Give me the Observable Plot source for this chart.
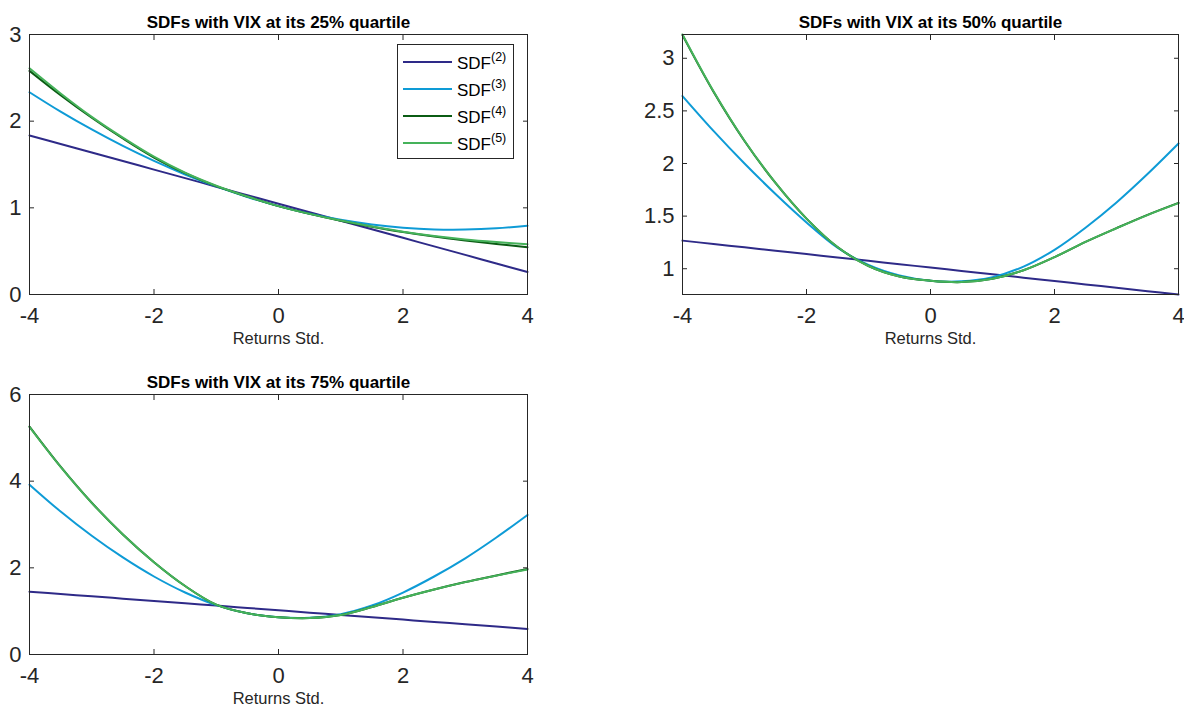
<!DOCTYPE html>
<html>
<head>
<meta charset="utf-8">
<script src="https://cdn.jsdelivr.net/npm/d3@7"></script>
<script src="https://cdn.jsdelivr.net/npm/@observablehq/plot@0.6"></script>
<style>
  html, body { margin: 0; padding: 0; background: #fff; }
  #root { position: relative; width: 1184px; height: 706px; overflow: hidden; font-family: "Liberation Sans", Arial, Helvetica, sans-serif; }
  .panel { position: absolute; }
  .panel svg { overflow: visible; }
  .legend { position: absolute; box-sizing: border-box; border: 1px solid #262626; background: #fff; }
  .legend .row { position: absolute; left: 0; height: 0; }
  .legend .swatch { position: absolute; height: 2px; }
  .legend .lab { position: absolute; font-size: 17px; color: #000; white-space: nowrap; line-height: 1; }
  .legend .lab sup { font-size: 12.5px; position: relative; top: -1px; vertical-align: super; line-height: 0; }
</style>
</head>
<body>
<div id="root"></div>
<script>
// ---- data ----
const xs = [-4, -3.5, -3, -2.5, -2, -1.5, -1, -0.5, 0, 0.5, 1, 1.5, 2, 2.5, 3, 3.5, 4];
const xTicks = [-4, -2, 0, 2, 4];

const seriesOrders = [2, 3, 4, 5];
const seriesColors = ["#2e2a88", "#0e9bd6", "#0b5c14", "#45b25a"];

const quartileLabels = ["25%", "50%", "75%"];

// VIX at 25% quartile
const sdf2_q25 = [1.835, 1.737, 1.638, 1.540, 1.441, 1.343, 1.244, 1.146, 1.048, 0.949, 0.851, 0.752, 0.654, 0.555, 0.457, 0.358, 0.260];
const sdf3_q25 = [2.334, 2.110, 1.904, 1.714, 1.541, 1.385, 1.247, 1.125, 1.020, 0.932, 0.862, 0.808, 0.771, 0.751, 0.749, 0.763, 0.794];
const sdf4_q25 = [2.580, 2.300, 2.040, 1.800, 1.580, 1.400, 1.250, 1.130, 1.020, 0.930, 0.852, 0.782, 0.720, 0.668, 0.624, 0.584, 0.545];
const sdf5_q25 = [2.610, 2.320, 2.050, 1.810, 1.590, 1.405, 1.255, 1.130, 1.020, 0.930, 0.853, 0.785, 0.725, 0.675, 0.635, 0.605, 0.580];

// VIX at 50% quartile
const sdf2_q50 = [1.267, 1.235, 1.203, 1.171, 1.139, 1.107, 1.075, 1.043, 1.011, 0.979, 0.947, 0.915, 0.883, 0.851, 0.819, 0.787, 0.755];
const sdf3_q50 = [2.641, 2.310, 2.000, 1.710, 1.440, 1.200, 1.035, 0.935, 0.885, 0.880, 0.920, 1.020, 1.180, 1.390, 1.630, 1.900, 2.190];
const sdf4_q50 = [3.220, 2.682, 2.214, 1.815, 1.476, 1.206, 1.026, 0.926, 0.886, 0.873, 0.905, 0.985, 1.110, 1.255, 1.386, 1.512, 1.626];
const sdf5_q50 = [3.226, 2.686, 2.216, 1.816, 1.476, 1.206, 1.026, 0.926, 0.886, 0.873, 0.905, 0.985, 1.110, 1.255, 1.385, 1.510, 1.623];

// VIX at 75% quartile
const sdf2_q75 = [1.450, 1.396, 1.343, 1.289, 1.235, 1.181, 1.128, 1.074, 1.020, 0.966, 0.913, 0.859, 0.805, 0.751, 0.698, 0.644, 0.590];
const sdf3_q75 = [3.920, 3.300, 2.740, 2.240, 1.800, 1.430, 1.140, 0.950, 0.860, 0.850, 0.930, 1.130, 1.430, 1.800, 2.220, 2.700, 3.220];
const sdf4_q75 = [5.260, 4.335, 3.502, 2.771, 2.130, 1.580, 1.150, 0.950, 0.860, 0.840, 0.910, 1.095, 1.310, 1.500, 1.672, 1.825, 1.975];
const sdf5_q75 = [5.250, 4.330, 3.500, 2.770, 2.130, 1.580, 1.150, 0.950, 0.860, 0.840, 0.910, 1.095, 1.310, 1.500, 1.670, 1.820, 1.960];

const yTicks_q25 = [0, 1, 2, 3];
const yTicks_q50 = [1, 1.5, 2, 2.5, 3];
const yTicks_q75 = [0, 2, 4, 6];

const xLabel = "Returns Std.";

// ---- drawing ----
const FONT = "Liberation Sans, Arial, Helvetica, sans-serif";
const INK = "#262626";

function makePanel(cfg) {
  const rows = [];
  cfg.series.forEach((vals, s) => {
    vals.forEach((v, i) => rows.push({x: xs[i], y: v, k: seriesOrders[s]}));
  });
  const yDomain = cfg.yDomain || d3.extent(rows, d => d.y);
  return Plot.plot({
    width: cfg.width,
    height: cfg.height,
    marginLeft: cfg.marginLeft,
    marginRight: cfg.marginRight,
    marginTop: cfg.marginTop,
    marginBottom: cfg.marginBottom,
    style: {fontFamily: FONT, background: "transparent", overflow: "visible", color: INK},
    x: {domain: [-4, 4], axis: null},
    y: {domain: yDomain, axis: null},
    color: {domain: seriesOrders, range: seriesColors},
    marks: [
      Plot.line(rows, {x: "x", y: "y", z: "k", stroke: "k", strokeWidth: 2, curve: "catmull-rom"}),
      Plot.frame({stroke: INK, strokeWidth: 1}),
      Plot.axisX(xTicks, {anchor: "bottom", tickSize: -5, tickPadding: 18, fontSize: 22, tickFormat: d => String(d), label: null, stroke: INK, fill: INK}),
      Plot.axisX(xTicks, {anchor: "top", tickSize: -5, tickFormat: () => "", label: null, stroke: INK}),
      Plot.axisY(cfg.yTicks, {anchor: "left", tickSize: -5, tickPadding: 13, fontSize: 22, tickFormat: d => String(d), label: null, stroke: INK, fill: INK}),
      Plot.axisY(cfg.yTicks, {anchor: "right", tickSize: -5, tickFormat: () => "", label: null, stroke: INK}),
      Plot.text([cfg.title], {text: d => d, frameAnchor: "top", lineAnchor: "bottom", dy: -7, fontWeight: "bold", fontSize: 17, fill: "#000"}),
      Plot.text([xLabel], {text: d => d, frameAnchor: "bottom", lineAnchor: "bottom", dy: 49, fontSize: 16.5, fill: INK})
    ]
  });
}

const root = document.getElementById("root");

const panels = [
  {left: 0, top: 0, width: 560, height: 350, marginLeft: 29, marginRight: 33, marginTop: 34, marginBottom: 56,
   series: [sdf2_q25, sdf3_q25, sdf4_q25, sdf5_q25], yTicks: yTicks_q25, yDomain: [0, 3], q: 0},
  {left: 600, top: 0, width: 584, height: 350, marginLeft: 82, marginRight: 6, marginTop: 34, marginBottom: 56,
   series: [sdf2_q50, sdf3_q50, sdf4_q50, sdf5_q50], yTicks: yTicks_q50, yDomain: null, q: 1},
  {left: 0, top: 360, width: 560, height: 346, marginLeft: 29, marginRight: 33, marginTop: 34, marginBottom: 52,
   series: [sdf2_q75, sdf3_q75, sdf4_q75, sdf5_q75], yTicks: yTicks_q75, yDomain: [0, 6], q: 2}
];

panels.forEach(p => {
  const div = document.createElement("div");
  div.className = "panel";
  div.style.left = p.left + "px";
  div.style.top = p.top + "px";
  p.title = `SDFs with VIX at its ${quartileLabels[p.q]} quartile`;
  div.appendChild(makePanel(p));
  root.appendChild(div);
});

// legend (top-left panel)
const legend = document.createElement("div");
legend.className = "legend";
legend.style.left = "397px";
legend.style.top = "44px";
legend.style.width = "117px";
legend.style.height = "115px";
seriesOrders.forEach((k, i) => {
  const row = document.createElement("div");
  row.className = "row";
  row.style.top = (16.5 + 27 * i) + "px";
  const sw = document.createElement("div");
  sw.className = "swatch";
  sw.style.left = "5px";
  sw.style.width = "49px";
  sw.style.top = "-1px";
  sw.style.background = seriesColors[i];
  const lab = document.createElement("div");
  lab.className = "lab";
  lab.style.left = "59px";
  lab.style.top = "-7px";
  lab.innerHTML = `SDF<sup>(${k})</sup>`;
  row.appendChild(sw);
  row.appendChild(lab);
  legend.appendChild(row);
});
root.appendChild(legend);
</script>
</body>
</html>
